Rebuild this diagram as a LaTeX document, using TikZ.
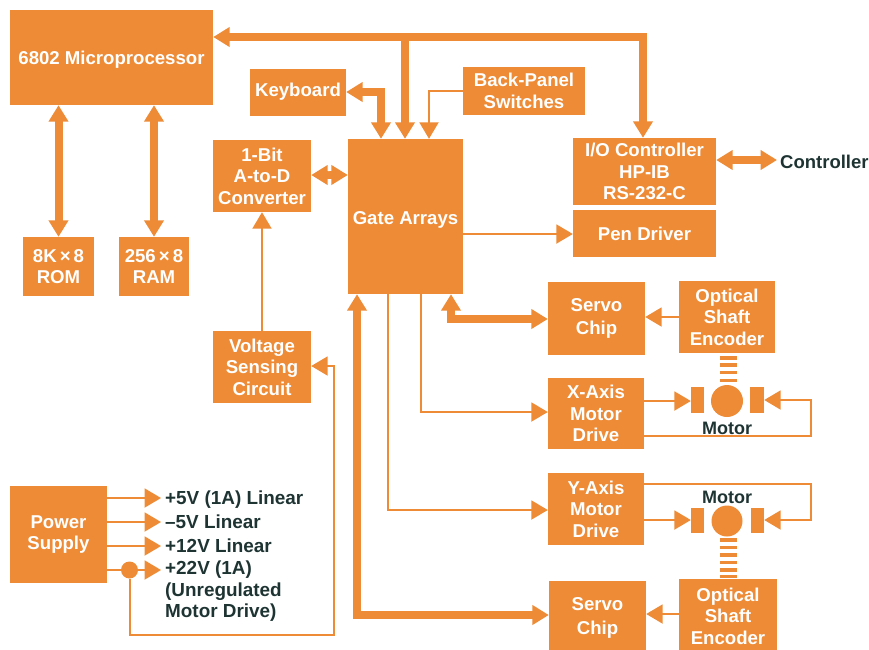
\documentclass[tikz,border=0pt]{standalone}
\usepackage{fontspec}
\setmainfont{Liberation Sans}
\usetikzlibrary{arrows.meta,calc}
\definecolor{hporange}{HTML}{ED8B36}
\definecolor{hpdark}{HTML}{1E3433}
\tikzset{
  orbox/.style={fill=hporange,text=white,inner sep=0pt,align=center,font=\bfseries\fontsize{18.6}{21.5}\selectfont},
  oneline/.style={text height=16pt,text depth=3pt},
  lab/.style={text=hpdark,inner xsep=4pt,inner ysep=0pt,anchor=west,align=left,font=\bfseries\fontsize{18.9}{21.5}\selectfont},
  labline/.style={lab,text height=16pt,text depth=3pt},
  motorlab/.style={text=hpdark,inner sep=0pt,font=\bfseries\fontsize{18}{21.5}\selectfont},
  head/.tip={Triangle[length=16.5pt,width=19pt]},
  thick bus/.style={draw=hporange,line width=8pt,line join=miter},
  thin line/.style={draw=hporange,line width=2pt,line join=miter},
  stripe/.style={fill=hporange},
  part/.style={fill=hporange}
}
% [options], name, x1, y1, x2, y2, text
\newcommand{\orangebox}[7][]{%
  \pgfmathsetmacro{\bw}{#5-#3}\pgfmathsetmacro{\bh}{#6-#4}%
  \node[orbox,minimum width=\bw pt,minimum height=\bh pt,#1] (#2) at ({(#3+#5)/2},{(#4+#6)/2}) {#7};}
\begin{document}
\begin{tikzpicture}[x=1pt,y=-1pt]
\useasboundingbox (0,0) rectangle (869,649);
\clip (0,0) rectangle (869,649);
\orangebox[oneline]{cpu}{10}{10}{213}{105}{6802 Microprocessor}
\orangebox[text height=10pt,text depth=3pt]{kbd}{250}{69}{346}{116}{Keyboard}
\orangebox{back}{463}{67}{585}{115}{Back-Panel\\Switches}
\orangebox{adc}{213}{140}{311}{212}{1-Bit\\A-to-D\\Converter}
\orangebox[text height=18pt,text depth=3pt]{gate}{348}{139}{463}{294}{Gate Arrays}
\orangebox{io}{573}{138}{716}{205}{I/O Controller\\HP-IB\\RS-232-C}
\orangebox[oneline]{pen}{573}{210}{716}{257}{Pen Driver}
\orangebox{rom}{23}{237}{94}{296}{8K\,×\,8\\ROM}
\orangebox{ram}{119}{237}{189}{296}{256\,×\,8\\RAM}
\orangebox{volt}{213}{331}{311}{403}{Voltage\\Sensing\\Circuit}
\orangebox{servoa}{548}{282}{645}{355}{Servo\\[2pt]Chip}
\orangebox{enca}{679}{281}{775}{353}{Optical\\Shaft\\Encoder}
\orangebox{xdrv}{548}{378}{644}{449}{X-Axis\\Motor\\Drive}
\orangebox{ydrv}{548}{473}{644}{545}{Y-Axis\\Motor\\Drive}
\orangebox{servob}{549}{581}{646}{655}{Servo\\[2pt]Chip}
\orangebox{encb}{679}{579}{777}{653}{Optical\\Shaft\\Encoder}
\orangebox{pwr}{10}{486}{107}{583}{Power\\Supply}
% labels
\node[labline] (lfive) at (161,498) {+5V (1A) Linear};
\node[labline] (lminus) at (161,522) {–5V Linear};
\node[labline] (ltwelve) at (161,546) {+12V Linear};
\node[lab,anchor=north west] (ltwentytwo) at (161,561) {+22V (1A)\\(Unregulated\\Motor Drive)};
\node[labline,inner xsep=0pt,font=\bfseries\fontsize{18.5}{21.5}\selectfont] (ctl) at (780,162) {Controller};
\node[motorlab] (mxlab) at (727,428) {Motor};
\node[motorlab] (mylab) at (727,497) {Motor};
% main bus
\coordinate (busl) at (213,37);
\coordinate (busr) at (643,37);
\coordinate (busg) at (405,37);
\draw[thick bus,{head}-] (cpu.east |- busl) -- (busr);
\draw[thick bus,-{head}] ($(busr)+(0,-4)$) -- (busr |- io.north);
\draw[thick bus,-{head}] (busg) -- (busg |- gate.north);
% cpu to memories
\coordinate (romx) at (58.5,170);
\coordinate (ramx) at (154,170);
\draw[thick bus,{head}-{head}] (cpu.south -| romx) -- (rom.north -| romx);
\draw[thick bus,{head}-{head}] (cpu.south -| ramx) -- (ram.north -| ramx);
% keyboard
\coordinate (kbj) at (381,92);
\draw[thick bus,{head}-{head}] (kbd.east |- kbj) -- (kbj) -- (kbj |- gate.north);
% back panel
\coordinate (bkj) at (429,91);
\draw[thin line,-{head}] (back.west |- bkj) -- (bkj) -- (bkj |- gate.north);
% adc
\coordinate (adcy) at (330,175);
\draw[thick bus,{head}-{head}] (adc.east |- adcy) -- (gate.west |- adcy);
\fill[white] (328,165) rectangle (329.5,171) (328,179) rectangle (329.5,185);
% voltage to adc
\draw[thin line,-{head}] (volt.north) -- (adc.south);
% pen
\coordinate (peny) at (520,234);
\draw[thin line,-{head}] (gate.east |- peny) -- (pen.west |- peny);
% servo a
\coordinate (sva) at (451,319);
\draw[thick bus,{head}-{head}] (gate.south -| sva) -- (sva) -- (servoa.west |- sva);
% x drive
\coordinate (xj) at (421,412);
\draw[thin line,-{head}] (gate.south -| xj) -- (xj) -- (xdrv.west |- xj);
% y drive
\coordinate (yj) at (388,510);
\draw[thin line,-{head}] (gate.south -| yj) -- (yj) -- (ydrv.west |- yj);
% servo b
\coordinate (svb) at (357,615);
\draw[thick bus,{head}-{head}] (gate.south -| svb) -- (svb) -- (servob.west |- svb);
% io to controller
\coordinate (ioy) at (740,160);
\coordinate (ctlend) at (777,160);
\draw[thick bus,{head}-{head}] (io.east |- ioy) -- (ctlend);
% encoders to servo
\coordinate (ea) at (660,317);
\draw[thin line,-{head}] (enca.west |- ea) -- (servoa.east |- ea);
\coordinate (eb) at (660,614);
\draw[thin line,-{head}] (encb.west |- eb) -- (servob.east |- eb);
% motor X
\node[part,minimum width=13pt,minimum height=26pt,inner sep=0pt] (xsl) at (697.5,400) {};
\node[part,minimum width=14pt,minimum height=26pt,inner sep=0pt] (xsr) at (757,400) {};
\node[part,circle,minimum size=32pt,inner sep=0pt] (xrot) at (727,401) {};
\coordinate (xa) at (670,401);
\draw[thin line,-{head}] (xdrv.east |- xa) -- (xsl.west |- xa);
\coordinate (xb) at (811,436);
\draw[thin line,-{head}] (xdrv.east |- xb) -- (xb) -- (xb |- xsr.east) -- (xsr.east);
\foreach \yy in {358,365,372.5,380.5}
  \fill[stripe] (720,\yy-1.8) rectangle (737,\yy+1.8);
% motor Y
\node[part,minimum width=13pt,minimum height=25pt,inner sep=0pt] (ysl) at (697.5,520) {};
\node[part,minimum width=13pt,minimum height=25pt,inner sep=0pt] (ysr) at (757.5,520) {};
\node[part,circle,minimum size=31pt,inner sep=0pt] (yrot) at (727,521) {};
\coordinate (ya) at (670,520);
\draw[thin line,-{head}] (ydrv.east |- ya) -- (ysl.west |- ya);
\coordinate (yb) at (811,484);
\draw[thin line,-{head}] (ydrv.east |- yb) -- (yb) -- (yb |- ysr.east) -- (ysr.east);
\foreach \yy in {540,547.5,555,562.5,570,576.5}
  \fill[stripe] (720,\yy-1.8) rectangle (737,\yy+1.8);
% power supply
\draw[thin line,-{head}] (pwr.east |- lfive.west) -- (lfive.west);
\draw[thin line,-{head}] (pwr.east |- lminus.west) -- (lminus.west);
\draw[thin line,-{head}] (pwr.east |- ltwelve.west) -- (ltwelve.west);
\coordinate (ptw) at (161,570);
\draw[thin line,-{head}] (pwr.east |- ptw) -- (ptw);
\node[part,circle,minimum size=17pt,inner sep=0pt] (dot) at (129.5,570) {};
\coordinate (pc) at (334,635);
\draw[thin line,-{head}] (dot.south) -- (dot.south |- pc) -- (pc) -- (pc |- 0,366) -- (volt.east |- 0,366);
\end{tikzpicture}
\end{document}
